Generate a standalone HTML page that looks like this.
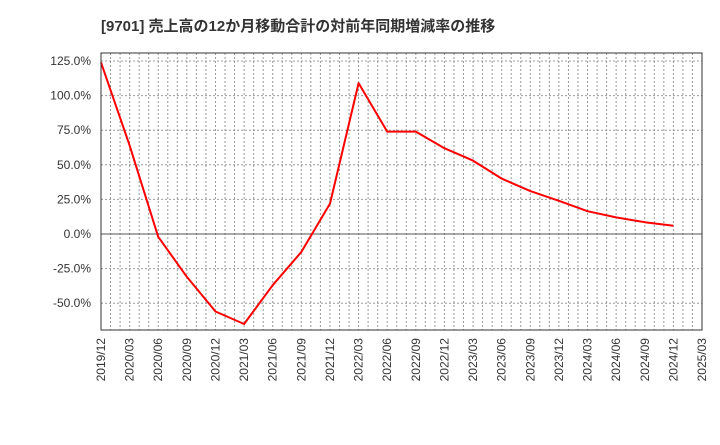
<!DOCTYPE html>
<html><head><meta charset="utf-8"><style>
body{margin:0;background:#fff;}
svg text{font-family:"Liberation Sans","Noto Sans CJK JP",sans-serif;fill:#333;}
</style></head><body>
<svg id="chart" width="720" height="440" xmlns="http://www.w3.org/2000/svg">
<text x="101" y="31" font-size="15" font-weight="bold">[9701]  売上高の12か月移動合計の対前年同期増減率の推移</text>
<g id="grid"></g><g id="axes"></g><g id="series"></g>
<rect x="101" y="53" width="601" height="277" fill="none" stroke="#333" stroke-width="1"/>
</svg>
<script>
const xLabels=["2019/12","2020/03","2020/06","2020/09","2020/12","2021/03","2021/06","2021/09","2021/12","2022/03","2022/06","2022/09","2022/12","2023/03","2023/06","2023/09","2023/12","2024/03","2024/06","2024/09","2024/12","2025/03"];
const yTicks=[125,100,75,50,25,0,-25,-50];
const values=[124,64,-2,-31,-56,-65,-37,-13,22,109,74,74,62,53,40,31,24,16.5,12,8.5,6];
const NS="http://www.w3.org/2000/svg";
const L=101,R=702,T=53,B=330;
function xm(m){return L+(R-L)*m/63;}
function xq(i){return xm(i*3);}
function y(v){return 234-(v)*34.6/25;}
const grid=document.getElementById('grid'),axes=document.getElementById('axes'),ser=document.getElementById('series');
function mk(tag,attrs,parent){const e=document.createElementNS(NS,tag);for(const k in attrs)e.setAttribute(k,attrs[k]);parent.appendChild(e);return e;}
for(let m=1;m<63;m++){
  const l=mk('line',{x1:xm(m),x2:xm(m),y1:T,y2:B,stroke:'#999','stroke-dasharray':'2,2','stroke-width':1},grid);
  
  
}
yTicks.forEach(v=>{
  const l=mk('line',{x1:L,x2:R,y1:y(v),y2:y(v),stroke:v===0?'#555':'#999','stroke-dasharray':v===0?'none':'2,2','stroke-width':1},grid);
  
  
  const t=mk('text',{x:91,y:y(v)+4,'text-anchor':'end','font-size':12},axes);
  t.textContent=v.toFixed(1)+'%';
  
  
});
xLabels.forEach((s,i)=>{
  const x=xq(i);
  const t=mk('text',{x:0,y:0,'text-anchor':'end','font-size':12,transform:`translate(${x+4},338) rotate(-90)`},axes);
  t.textContent=s;
  
  
});
const pts=values.map((v,i)=>xq(i).toFixed(1)+','+y(v).toFixed(1)).join(' ');
const pl=mk('polyline',{points:pts,fill:'none',stroke:'#f00','stroke-width':2,'stroke-linejoin':'round'},ser);


</script>
</body></html>
